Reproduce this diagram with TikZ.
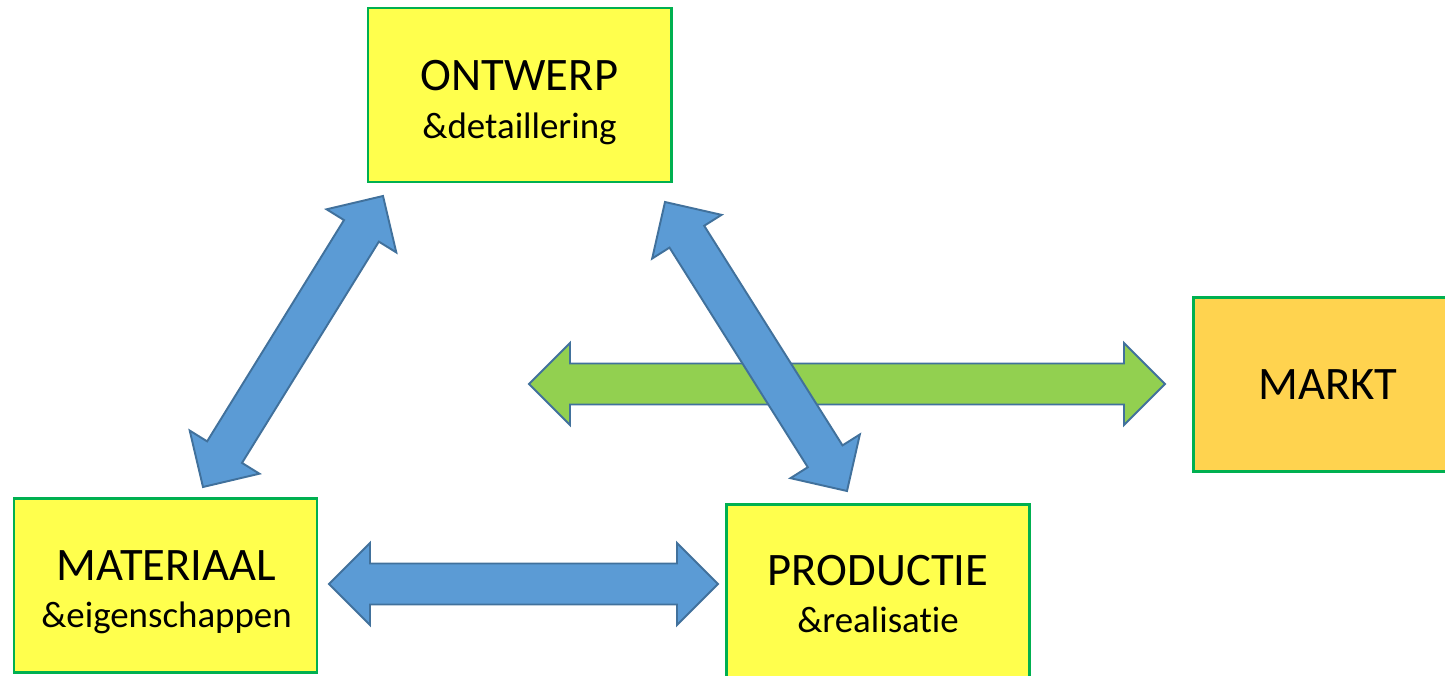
\documentclass[tikz,border=0pt]{standalone}
\usepackage{fontspec}
\setmainfont{Carlito}[Ligatures=NoCommon]
\usetikzlibrary{calc}
\definecolor{boxyellow}{HTML}{FFFF4D}
\definecolor{marktorange}{HTML}{FFD34F}
\definecolor{boxgreen}{HTML}{00B050}
\definecolor{arrowblue}{HTML}{5B9BD5}
\definecolor{arrowedge}{HTML}{41719C}
\definecolor{arrowgreen}{HTML}{92D050}
\newcommand\bigword{\fontsize{26.5}{27}\selectfont}
\def\dblarrow[#1](#2)(#3){\draw[#1] (#2)
	-- ($(#2)!0.82cm!(#3)!0.82cm!90:(#3)$)
	-- ($(#2)!0.82cm!(#3)!0.41cm!90:(#3)$)
	-- ($(#3)!0.82cm!(#2)!0.41cm!-90:(#2)$)
	-- ($(#3)!0.82cm!(#2)!0.82cm!-90:(#2)$)
	-- (#3)
	-- ($(#3)!0.82cm!(#2)!0.82cm!90:(#2)$)
	-- ($(#3)!0.82cm!(#2)!0.41cm!90:(#2)$)
	-- ($(#2)!0.82cm!(#3)!0.41cm!-90:(#3)$)
	-- ($(#2)!0.82cm!(#3)!0.82cm!-90:(#3)$)
	-- cycle;}

\begin{document}
\begin{tikzpicture}[
		box/.style={draw=boxgreen, line width=1.7pt, fill=boxyellow, minimum width=6.06cm, minimum height=3.48cm, inner sep=0pt},
		boxtext/.style={align=center, inner sep=0pt, font=\fontsize{21}{27}\selectfont},
		bluearrow/.style={fill=arrowblue, draw=arrowedge, line width=1.1pt, line join=miter},
		greenarrow/.style={fill=arrowgreen, draw=arrowedge, line width=1.1pt, line join=miter}]
			%%%%% START %%%%%
			
			\useasboundingbox (0, 0) rectangle (28.9, 13.5);
			
			\node[box] (ontwerp) at (10.39, 11.6) {};
			\node[boxtext] (ontwerptxt) at (10.39, 11.445) {{\bigword ONTWERP}\\ \&detaillering};
			
			\node[box] (materiaal) at (3.31, 1.79) {};
			\node[boxtext] (materiaaltxt) at (3.33, 1.65) {{\bigword MATERIAAL}\\ \&eigenschappen};
			
			\node[box] (productie) at (17.56, 1.67) {};
			\node[boxtext] (productietxt) at (17.56, 1.62) {{\bigword PRODUCTIE}\\ \&realisatie};
			
			\node[box, fill=marktorange, minimum width=5.4cm] (markt) at (26.56, 5.81) {};
			\node[boxtext] (markttxt) at (26.56, 5.80) {\bigword MARKT};
			
			\coordinate (mat-ont) at (4.06, 3.76);
			\coordinate (ont-mat) at (7.66, 9.58);
			\coordinate (ont-prod) at (13.30, 9.46);
			\coordinate (prod-ont) at (16.94, 3.68);
			\coordinate (mat-prod) at (6.58, 1.82);
			\coordinate (prod-mat) at (14.36, 1.82);
			\coordinate (markt-l) at (10.58, 5.82);
			\coordinate (markt-r) at (23.30, 5.82);
			
			\dblarrow[greenarrow](markt-l)(markt-r)
			\dblarrow[bluearrow](mat-ont)(ont-mat)
			\dblarrow[bluearrow](ont-prod)(prod-ont)
			\dblarrow[bluearrow](mat-prod)(prod-mat)
			
			%%%%% END %%%%%
\end{tikzpicture}
\end{document}
